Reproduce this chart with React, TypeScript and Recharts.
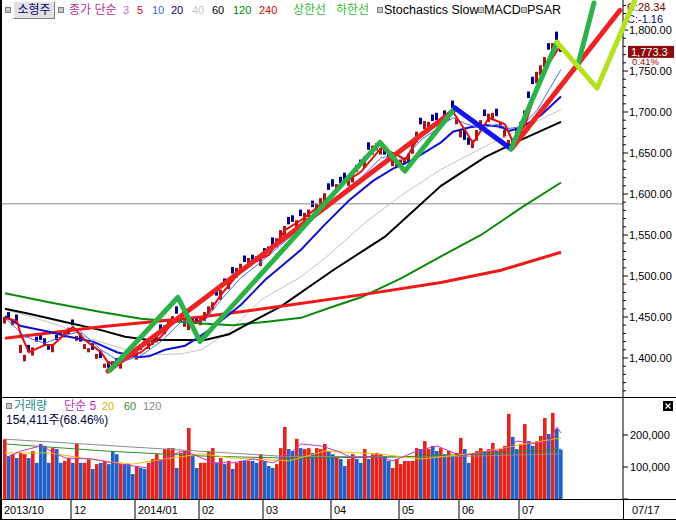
import React from "react";
import { ComposedChart, Bar, Line, Scatter, XAxis, YAxis, ReferenceLine } from "recharts";

// daily candles (trading-day index 0..139)
const closes = [
  1450, 1449, 1446, 1444, 1416, 1404, 1407, 1413, 1420, 1422,
  1415, 1410, 1416, 1422, 1428, 1434, 1437, 1440, 1427, 1420,
  1417, 1412, 1410, 1405, 1400, 1393, 1388, 1390, 1393, 1395,
  1398, 1400, 1404, 1407, 1410, 1415, 1420, 1424, 1429, 1434,
  1440, 1446, 1451, 1454, 1451, 1446, 1444, 1440, 1444, 1449,
  1456, 1463, 1468, 1476, 1483, 1489, 1495, 1503, 1510, 1515,
  1517, 1522, 1517, 1517, 1522, 1526, 1529, 1538, 1546, 1556,
  1561, 1563, 1566, 1568, 1573, 1577, 1581, 1584, 1588, 1595,
  1601, 1605, 1609, 1612, 1613, 1617, 1621, 1623, 1627, 1635,
  1646, 1654, 1659, 1662, 1656, 1648, 1644, 1642, 1640, 1642,
  1644, 1649, 1663, 1676, 1685, 1689, 1688, 1689, 1690, 1689,
  1695, 1700, 1705, 1693, 1678, 1666, 1660, 1666, 1678, 1690,
  1695, 1698, 1699, 1695, 1688, 1678, 1666, 1659, 1672, 1688,
  1702, 1717, 1734, 1749, 1757, 1767, 1776, 1784, 1788, 1773.3,
];

const opens = [
  1442, 1456, 1440, 1453, 1406, 1396, 1416, 1403, 1426, 1430,
  1424, 1417, 1407, 1428, 1433, 1425, 1429, 1447, 1421, 1430,
  1411, 1407, 1418, 1399, 1409, 1388, 1396, 1396, 1400, 1387,
  1404, 1407, 1409, 1398, 1417, 1421, 1411, 1416, 1419, 1441,
  1429, 1437, 1443, 1463, 1444, 1438, 1434, 1449, 1450, 1440,
  1445, 1453, 1459, 1483, 1471, 1497, 1484, 1511, 1498, 1506,
  1525, 1512, 1526, 1524, 1512, 1534, 1536, 1547, 1535, 1543,
  1549, 1572, 1574, 1558, 1581, 1566, 1572, 1592, 1578, 1583,
  1590, 1613, 1618, 1602, 1621, 1626, 1610, 1614, 1635, 1642,
  1632, 1663, 1648, 1653, 1648, 1658, 1653, 1634, 1633, 1633,
  1636, 1639, 1649, 1663, 1693, 1679, 1679, 1697, 1699, 1681,
  1702, 1690, 1714, 1685, 1669, 1678, 1669, 1656, 1665, 1678,
  1703, 1688, 1690, 1704, 1680, 1669, 1656, 1668, 1680, 1674,
  1689, 1725, 1743, 1735, 1745, 1755, 1784, 1772, 1798, 1782,
];

const volumes = [
  187000, 134000, 140000, 128000, 144000, 140000, 128000, 150000, 113000, 172000,
  166000, 113000, 159000, 156000, 113000, 119000, 128000, 113000, 172000, 113000,
  113000, 125000, 94000, 109000, 113000, 119000, 109000, 150000, 140000, 109000,
  109000, 109000, 78000, 103000, 97000, 94000, 113000, 125000, 140000, 125000,
  156000, 159000, 159000, 97000, 144000, 150000, 222000, 134000, 97000, 113000,
  113000, 150000, 159000, 113000, 128000, 109000, 119000, 94000, 113000, 119000,
  119000, 119000, 119000, 113000, 140000, 119000, 103000, 97000, 109000, 159000,
  225000, 156000, 150000, 188000, 159000, 156000, 159000, 144000, 159000, 156000,
  172000, 150000, 140000, 134000, 125000, 103000, 125000, 140000, 125000, 113000,
  156000, 125000, 140000, 144000, 140000, 134000, 119000, 97000, 125000, 109000,
  119000, 119000, 119000, 159000, 156000, 181000, 156000, 166000, 150000, 159000,
  140000, 150000, 134000, 144000, 191000, 156000, 113000, 140000, 150000, 159000,
  150000, 156000, 175000, 150000, 156000, 166000, 266000, 194000, 156000, 172000,
  234000, 181000, 166000, 181000, 197000, 253000, 203000, 269000, 219000, 154411,
];

// moving averages as [day index, value]
const ma5 = [[0, 1449], [3, 1445], [4, 1428], [6, 1407], [10, 1416], [12, 1416], [17, 1438], [20, 1422], [24, 1407], [26, 1393], [30, 1398], [34, 1407], [39, 1426], [43, 1449], [48, 1444], [50, 1449], [54, 1477], [59, 1507], [62, 1517], [66, 1526], [70, 1556], [74, 1568], [79, 1587], [84, 1611], [89, 1627], [94, 1656], [98, 1648], [100, 1641], [104, 1674], [109, 1689], [112, 1700], [115, 1678], [117, 1662], [121, 1693], [125, 1685], [127, 1663], [130, 1684], [134, 1745], [139, 1782]];
const ma10 = [[0, 1449], [5, 1426], [10, 1418], [15, 1428], [19, 1432], [24, 1410], [29, 1395], [34, 1403], [39, 1420], [44, 1444], [48, 1444], [50, 1446], [54, 1471], [59, 1498], [64, 1517], [69, 1538], [74, 1559], [79, 1578], [84, 1601], [89, 1620], [94, 1644], [98, 1648], [100, 1644], [104, 1666], [109, 1683], [112, 1693], [115, 1686], [119, 1680], [123, 1685], [126, 1680], [129, 1682], [133, 1702], [136, 1727], [139, 1752]];
const ma20 = [[0, 1451], [4, 1439], [11, 1432], [16, 1426], [22, 1420], [28, 1407], [33, 1401], [36, 1402], [40, 1410], [45, 1415], [48, 1424], [51, 1434], [55, 1449], [59, 1465], [65, 1495], [74, 1532], [80, 1563], [86, 1592], [92, 1616], [97, 1631], [102, 1642], [109, 1663], [112, 1676], [116, 1681], [120, 1684], [124, 1682], [126, 1677], [129, 1681], [134, 1696], [139, 1719]];
const ma40 = [[0, 1459], [6, 1451], [14, 1439], [21, 1424], [29, 1412], [36, 1404], [44, 1405], [49, 1410], [56, 1432], [64, 1471], [74, 1499], [81, 1526], [90, 1565], [99, 1598], [104, 1614], [109, 1630], [120, 1658], [131, 1684], [139, 1703]];
const ma60 = [[0, 1460], [6, 1454], [15, 1444], [24, 1434], [30, 1426], [36, 1422], [50, 1422], [56, 1429], [62, 1445], [69, 1463], [82, 1507], [95, 1548], [109, 1610], [120, 1645], [129, 1666], [139, 1688]];
const ma120 = [[0, 1479], [11, 1468], [24, 1456], [34, 1448], [49, 1442], [57, 1440], [65, 1444], [74, 1449], [81, 1461], [89, 1474], [99, 1497], [109, 1524], [119, 1550], [129, 1583], [139, 1614]];
const ma240 = [[0, 1424], [24, 1438], [49, 1450], [69, 1463], [89, 1477], [109, 1492], [124, 1507], [139, 1529]];

const vol5 = [[0, 128000], [4, 150000], [9, 166000], [15, 128000], [22, 125000], [27, 113000], [32, 103000], [36, 97000], [40, 125000], [44, 150000], [47, 140000], [52, 113000], [57, 113000], [62, 125000], [67, 113000], [71, 140000], [74, 172000], [79, 166000], [83, 150000], [87, 128000], [92, 134000], [97, 119000], [103, 150000], [108, 166000], [114, 134000], [118, 144000], [125, 156000], [128, 181000], [133, 172000], [136, 181000], [138, 225000], [139, 206000]];
const vol20 = [[0, 144000], [11, 144000], [24, 119000], [32, 109000], [40, 125000], [49, 141000], [57, 128000], [71, 119000], [80, 150000], [94, 140000], [104, 125000], [118, 144000], [130, 172000], [139, 191000]];
const vol60 = [[0, 172000], [25, 150000], [50, 134000], [70, 128000], [97, 131000], [119, 141000], [139, 156000]];
const vol120 = [[0, 187000], [70, 133000], [110, 132000], [139, 141000]];

// hand-drawn trend lines
const redTrendA = [[25.75, 1384], [112.5, 1703]];
const redTrendB = [[126.75, 1656], [153.75, 1824]];
const greenWave = [[26.25, 1385], [43.25, 1474], [48.75, 1420], [93.75, 1663], [100, 1628], [112.5, 1705]];
const blueLeg = [[112.5, 1705], [126.5, 1655]];
const greenLeg = [[126.5, 1655], [138, 1785]];
const greenProj = [[143.25, 1758], [147.25, 1833]];
const limeProj = [[138, 1785], [148, 1729], [157.5, 1837]];

const monthTicks = [-1, 16.5, 32.5, 48.5, 64.5, 81.5, 98.5, 113.5, 128.5];
const monthLabels = ["2013/10", "12", "2014/01", "02", "03", "04", "05", "06", "07"];
const priceLabels = [1400, 1450, 1500, 1550, 1600, 1650, 1700, 1750, 1800];
const volumeTicks = [0, 100000, 200000];
const volumeLabels = [100000, 200000];

const X_DOMAIN = [-1.25, 154.5];
const X_DOMAIN_WIDE = [-1.25, 167.75];
const Y_DOMAIN = [1352.44, 1836.59];

const LAT = "'Liberation Sans', Arial, 'Noto Sans CJK KR', sans-serif";

const priceTicks: number[] = [];
for (let v = 1360; v <= 1830; v += 10) priceTicks.push(v);

const lastClose = closes[closes.length - 1];

const priceRows: any[] = closes.map((c, i) => ({
  x: i,
  open: opens[i],
  close: c,
  body: [Math.min(opens[i], c), Math.max(opens[i], c)],
}));

const maLines = [
  { key: "ma40", pts: ma40, color: "#c4c4c4", w: 1 },
  { key: "ma120", pts: ma120, color: "#0a8a0a", w: 2 },
  { key: "ma60", pts: ma60, color: "#000000", w: 2 },
  { key: "ma240", pts: ma240, color: "#f01818", w: 3 },
  { key: "ma20", pts: ma20, color: "#1010c8", w: 2 },
  { key: "ma10", pts: ma10, color: "#4a6cff", w: 1 },
  { key: "ma5", pts: ma5, color: "#e01010", w: 2 },
];
maLines.forEach((m) => m.pts.forEach(([i, v]) => { priceRows[i][m.key] = v; }));

const volRows: any[] = volumes.map((v, i) => ({ x: i, vol: v, up: closes[i] >= opens[i] }));
const volLines = [
  { key: "v120", pts: vol120, color: "#8c8c8c" },
  { key: "v60", pts: vol60, color: "#2f8a2f" },
  { key: "v20", pts: vol20, color: "#e8c000" },
  { key: "v5", pts: vol5, color: "#c832c8" },
];
volLines.forEach((m) => m.pts.forEach(([i, v]) => { volRows[i][m.key] = v; }));

const trendLines = [
  { pts: redTrendA, color: "#ec2424" },
  { pts: greenWave, color: "#2db24a" },
  { pts: blueLeg, color: "#1414f0" },
  { pts: redTrendB, color: "#ec2424" },
  { pts: greenLeg, color: "#2db24a" },
  { pts: greenProj, color: "#2db24a" },
  { pts: limeProj, color: "#b4e21e" },
];

const fmt = (v: number, d: number) =>
  v.toLocaleString("en-US", { minimumFractionDigits: d, maximumFractionDigits: d });

const CandleShape = (props: any) => {
  const { x, y, width, height, payload } = props;
  const up = payload.close >= payload.open;
  const h = Math.max(Math.abs(height), 1);
  return <rect x={x} y={height < 0 ? y + height : y} width={width} height={h} fill={up ? "#a81414" : "#00008c"} />;
};

const VolShape = (props: any) => {
  const { x, y, width, height, payload } = props;
  return <rect x={x} y={y} width={width} height={height} fill={payload.up ? "#e4231a" : "#1f5fca"} />;
};

const PriceTick = (props: any) => {
  const { x, y, payload } = props;
  const v = payload.value;
  const major = priceLabels.includes(v);
  return (
    <g>
      <line x1={x} x2={x + (major ? 5 : 3)} y1={y} y2={y} stroke="#000" />
      {major && (
        <text x={x + 6} y={y + 4} fontSize={11} fontFamily={LAT} fill="#000">
          {fmt(v, 2)}
        </text>
      )}
    </g>
  );
};

const VolTick = (props: any) => {
  const { x, y, payload } = props;
  const v = payload.value;
  return (
    <g>
      <line x1={x} x2={x + 5} y1={y} y2={y} stroke="#000" />
      {volumeLabels.includes(v) && (
        <text x={x + 7} y={y + 4} fontSize={11} fontFamily={LAT} fill="#000">
          {fmt(v, 0)}
        </text>
      )}
    </g>
  );
};

const MonthTick = (props: any) => {
  const { x, y, payload } = props;
  const idx = monthTicks.indexOf(payload.value);
  return (
    <g>
      {idx > 0 && <line x1={x} x2={x} y1={y} y2={y + 20} stroke="#000" />}
      <text x={x + 3} y={y + 15} fontSize={11} fontFamily={LAT} fill="#000">
        {monthLabels[idx]}
      </text>
    </g>
  );
};

const PriceTag = (props: any) => {
  const vb = props.viewBox || { x: 0, y: 0, width: 0 };
  const x = vb.x + vb.width + 5;
  const y = vb.y;
  return (
    <g>
      <rect x={x} y={y - 6} width={46} height={12} fill="#8c0a0a" />
      <text x={x + 3} y={y + 4} fontSize={11} fontFamily={LAT} fill="#fff">
        {fmt(lastClose, 1)}
      </text>
      <rect x={x} y={y + 6} width={30} height={8} fill="#fff" />
      <text x={x + 4} y={y + 13} fontSize={9.5} fontFamily={LAT} fill="#a00000">
        0.41%
      </text>
    </g>
  );
};

const Txt = ({ left, top, color, size = 11, children, bg }: any) => (
  <span
    style={{
      position: "absolute", left, top, color, fontSize: size, lineHeight: "14px",
      fontFamily: LAT, whiteSpace: "nowrap", background: bg,
    }}
  >
    {children}
  </span>
);

const Sq = ({ left, top }: any) => (
  <span style={{ position: "absolute", left, top, width: 4, height: 4, border: "1px solid #808080", background: "#c8c8c8" }} />
);

const HLine = ({ top, left = 0, width = 676 }: any) => (
  <div style={{ position: "absolute", left, top, width, height: 1, background: "#000" }} />
);

export default function App() {
  return (
    <div style={{ position: "relative", width: 676, height: 520, background: "#fff", overflow: "hidden" }}>
      <style>{"body{margin:0}"}</style>

      <div style={{ position: "absolute", left: 0, top: 0 }}>
        <ComposedChart width={676} height={397} data={priceRows} margin={{ top: 0, right: 0, bottom: 0, left: 0 }}>
          <XAxis type="number" dataKey="x" domain={X_DOMAIN} allowDataOverflow hide />
          <YAxis
            orientation="right"
            width={53}
            type="number"
            domain={Y_DOMAIN}
            allowDataOverflow
            ticks={priceTicks}
            interval={0}
            tick={<PriceTick />}
            tickLine={false}
            tickSize={0}
            tickMargin={0}
            axisLine={{ stroke: "#000" }}
          />
          <ReferenceLine y={1588} stroke="#8a8a8a" />
          {maLines.map((m) => (
            <Line
              key={m.key}
              dataKey={m.key}
              type="linear"
              stroke={m.color}
              strokeWidth={m.w}
              dot={false}
              activeDot={false}
              connectNulls
              isAnimationActive={false}
            />
          ))}
          <Bar dataKey="body" barSize={3} shape={<CandleShape />} isAnimationActive={false} />
          <ReferenceLine y={lastClose} stroke="none" ifOverflow="visible" label={<PriceTag />} />
        </ComposedChart>
      </div>

      <div style={{ position: "absolute", left: 0, top: 398 }}>
        <ComposedChart width={676} height={121} data={volRows} margin={{ top: 0, right: 0, bottom: 0, left: 0 }}>
          <XAxis
            type="number"
            dataKey="x"
            domain={X_DOMAIN}
            allowDataOverflow
            ticks={monthTicks}
            interval={0}
            height={20}
            tick={<MonthTick />}
            tickLine={false}
            tickSize={0}
            tickMargin={0}
            axisLine={false}
          />
          <YAxis
            orientation="right"
            width={53}
            type="number"
            domain={[0, 315625]}
            allowDataOverflow
            ticks={volumeTicks}
            interval={0}
            tick={<VolTick />}
            tickLine={false}
            tickSize={0}
            tickMargin={0}
            axisLine={{ stroke: "#000" }}
          />
          <Bar dataKey="vol" barSize={4} shape={<VolShape />} isAnimationActive={false} />
          {volLines.map((m) => (
            <Line
              key={m.key}
              dataKey={m.key}
              type="linear"
              stroke={m.color}
              strokeWidth={1}
              dot={false}
              activeDot={false}
              connectNulls
              isAnimationActive={false}
            />
          ))}
        </ComposedChart>
      </div>

      {/* frame */}
      <div style={{ position: "absolute", left: 0, top: 0, width: 2, height: 520, background: "#000" }} />
      <HLine top={397} />
      <HLine top={499} />
      <HLine top={519} />
      <div style={{ position: "absolute", left: 623, top: 499, width: 1, height: 21, background: "#000" }} />
      <Txt left={632} top={503} color="#000">07/17</Txt>

      {/* price panel legend */}
      <Sq left={5} top={7} />
      <div
        style={{
          position: "absolute", left: 13, top: 1, width: 40, height: 16, background: "#e2e2e2",
          borderStyle: "solid", borderWidth: 1, borderColor: "#ffffff #808080 #808080 #ffffff",
          color: "#00007a", fontSize: 12, lineHeight: "16px", textAlign: "center", fontFamily: LAT,
        }}
      >
        소형주
      </div>
      <Sq left={58} top={7} />
      <Txt left={69} top={3} color="#b8309c" size={12}>종가 단순</Txt>
      <Txt left={123} top={3} color="#c070d0">3</Txt>
      <Txt left={137} top={3} color="#e00000">5</Txt>
      <Txt left={152} top={3} color="#3366ff">10</Txt>
      <Txt left={171} top={3} color="#000088">20</Txt>
      <Txt left={192} top={3} color="#c4c4c4">40</Txt>
      <Txt left={212} top={3} color="#000">60</Txt>
      <Txt left={233} top={3} color="#008000">120</Txt>
      <Txt left={259} top={3} color="#e00000">240</Txt>
      <Txt left={293} top={3} color="#33bb33" size={12}>상한선</Txt>
      <Txt left={336} top={3} color="#33bb33" size={12}>하한선</Txt>
      <Sq left={377} top={7} />
      <Txt left={384} top={3} color="#000" size={12.5}>Stochastics Slow</Txt>
      <Sq left={478} top={7} />
      <Txt left={484} top={3} color="#000" size={12.5}>MACD</Txt>
      <Sq left={521} top={7} />
      <Txt left={527} top={3} color="#000" size={12.5}>PSAR</Txt>

      <Txt left={627} top={0} color="#800000" bg="#fff">C:28.34</Txt>
      <Txt left={627} top={12} color="#000080" bg="#fff">C:-1.16</Txt>

      {/* volume panel legend */}
      <Sq left={6} top={403} />
      <Txt left={14} top={399} color="#2a8a8a" size={12}>거래량</Txt>
      <Txt left={64} top={399} color="#c030c0" size={12}>단순 5</Txt>
      <Txt left={102} top={399} color="#d4b000">20</Txt>
      <Txt left={124} top={399} color="#3a8a3a">60</Txt>
      <Txt left={143} top={399} color="#888">120</Txt>
      <Txt left={6} top={413} color="#000040" size={12}>154,411주(68.46%)</Txt>
      <svg style={{ position: "absolute", left: 663, top: 401 }} width={10} height={10}>
        <rect x={0} y={0} width={10} height={10} fill="#000" />
        <path d="M2.5 2.5 L7.5 7.5 M7.5 2.5 L2.5 7.5" stroke="#fff" strokeWidth={1.2} />
      </svg>

      {/* drawn trend lines, allowed to run past the price axis */}
      <div style={{ position: "absolute", left: 0, top: 0, pointerEvents: "none" }}>
        <ComposedChart width={676} height={397} margin={{ top: 0, right: 0, bottom: 0, left: 0 }}>
          <XAxis type="number" dataKey="x" domain={X_DOMAIN_WIDE} allowDataOverflow hide />
          <YAxis type="number" domain={Y_DOMAIN} allowDataOverflow hide />
          {trendLines.map((t, k) => (
            <Scatter
              key={k}
              data={t.pts.map(([x, y]) => ({ x, y }))}
              dataKey="y"
              fill={t.color}
              line={{ stroke: t.color, strokeWidth: 5, strokeLinecap: "round", strokeLinejoin: "round" }}
              shape={() => <g />}
              isAnimationActive={false}
            />
          ))}
        </ComposedChart>
      </div>
    </div>
  );
}
